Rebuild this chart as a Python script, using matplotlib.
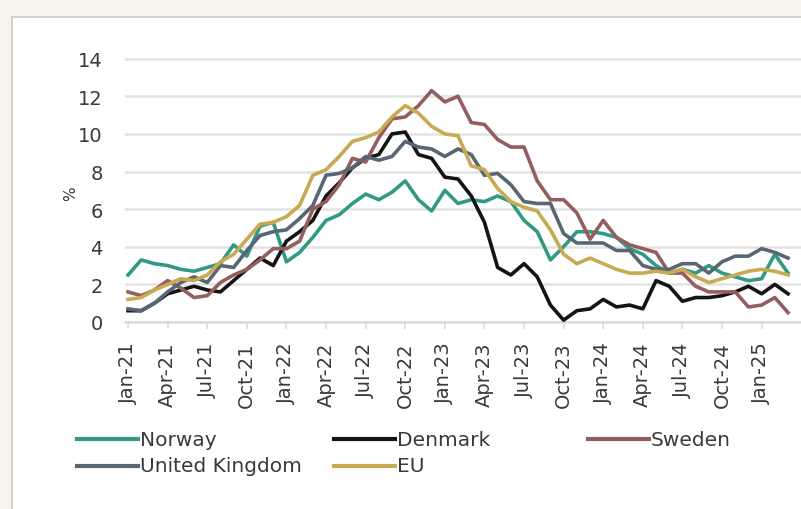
import numpy as np
import matplotlib
matplotlib.use('Agg')
import matplotlib.pyplot as plt
from matplotlib.lines import Line2D
from matplotlib.patches import Rectangle

# Datos: inflacion mensual (%), Jan-21 .. Mar-25
norway = [2.5, 3.3, 3.1, 3.0, 2.8, 2.7, 2.9, 3.1, 4.1, 3.5, 5.1, 5.3,
          3.2, 3.7, 4.5, 5.4, 5.7, 6.3, 6.8, 6.5, 6.9, 7.5, 6.5, 5.9,
          7.0, 6.3, 6.5, 6.4, 6.7, 6.4, 5.4, 4.8, 3.3, 4.0, 4.8, 4.8,
          4.7, 4.5, 3.9, 3.6, 3.0, 2.6, 2.8, 2.6, 3.0, 2.6, 2.4, 2.2,
          2.3, 3.6, 2.6]
denmark = [0.6, 0.6, 1.0, 1.5, 1.7, 1.9, 1.7, 1.6, 2.2, 2.8, 3.4, 3.0,
           4.3, 4.8, 5.4, 6.7, 7.4, 8.2, 8.7, 8.9, 10.0, 10.1, 8.9, 8.7,
           7.7, 7.6, 6.7, 5.3, 2.9, 2.5, 3.1, 2.4, 0.9, 0.1, 0.6, 0.7,
           1.2, 0.8, 0.9, 0.7, 2.2, 1.9, 1.1, 1.3, 1.3, 1.4, 1.6, 1.9,
           1.5, 2.0, 1.5]
sweden = [1.6, 1.4, 1.7, 2.2, 1.8, 1.3, 1.4, 2.1, 2.5, 2.8, 3.3, 3.9,
          3.9, 4.3, 6.0, 6.4, 7.3, 8.7, 8.5, 9.8, 10.8, 10.9, 11.5, 12.3,
          11.7, 12.0, 10.6, 10.5, 9.7, 9.3, 9.3, 7.5, 6.5, 6.5, 5.8, 4.4,
          5.4, 4.5, 4.1, 3.9, 3.7, 2.6, 2.6, 1.9, 1.6, 1.6, 1.6, 0.8,
          0.9, 1.3, 0.5]
uk = [0.7, 0.6, 1.0, 1.6, 2.1, 2.4, 2.1, 3.0, 2.9, 3.8, 4.6, 4.8,
      4.9, 5.5, 6.2, 7.8, 7.9, 8.2, 8.8, 8.6, 8.8, 9.6, 9.3, 9.2,
      8.8, 9.2, 8.9, 7.8, 7.9, 7.3, 6.4, 6.3, 6.3, 4.7, 4.2, 4.2,
      4.2, 3.8, 3.8, 3.0, 2.8, 2.8, 3.1, 3.1, 2.6, 3.2, 3.5, 3.5,
      3.9, 3.7, 3.4]
eu = [1.2, 1.3, 1.7, 2.0, 2.3, 2.2, 2.5, 3.2, 3.6, 4.4, 5.2, 5.3,
      5.6, 6.2, 7.8, 8.1, 8.8, 9.6, 9.8, 10.1, 10.9, 11.5, 11.1, 10.4,
      10.0, 9.9, 8.3, 8.1, 7.1, 6.4, 6.1, 5.9, 4.9, 3.6, 3.1, 3.4,
      3.1, 2.8, 2.6, 2.6, 2.7, 2.6, 2.8, 2.4, 2.1, 2.3, 2.5, 2.7,
      2.8, 2.7, 2.5]

tick_labels = ['Jan-21', 'Apr-21', 'Jul-21', 'Oct-21', 'Jan-22', 'Apr-22',
               'Jul-22', 'Oct-22', 'Jan-23', 'Apr-23', 'Jul-23', 'Oct-23',
               'Jan-24', 'Apr-24', 'Jul-24', 'Oct-24', 'Jan-25']
series_names = ['Norway', 'Denmark', 'Sweden', 'United Kingdom', 'EU']
series_colors = ['#329a84', '#141414', '#945e5f', '#596673', '#c8aa52']

W, H = 801, 510
TXT = '#3a3a3a'


def px(x, y):
    # pixeles (desde arriba-izquierda) -> fraccion de figura
    return x / W, 1 - y / H


def main():
    plt.rcParams['font.family'] = ['DejaVu Sans']
    fig = plt.figure(figsize=(W / 100, H / 100), dpi=100, facecolor='#f8f5ec')

    # panel blanco con borde
    x0, y0 = px(12, 18)
    fig.patches.append(Rectangle((x0, -0.02), 1.05 - x0, y0 + 0.02,
                                 transform=fig.transFigure, facecolor='white',
                                 edgecolor='#d6d2c8', linewidth=1.5, zorder=-10))

    left, top = px(125, 54)
    _, bottom = px(125, 323)
    ax = fig.add_axes([left, bottom, 676 / W, top - bottom])
    ax.set_facecolor('none')

    x = np.arange(len(norway))
    data = [norway, denmark, sweden, uk, eu]
    for vals, c in zip(data, series_colors):
        ax.plot(x, vals, color=c, lw=2.6, solid_joinstyle='round',
                clip_on=False, zorder=3)

    ax.set_xlim(-0.23, -0.23 + 676 / 13.2)
    ax.set_ylim(0, 14.3)
    ax.set_yticks(np.arange(0, 15, 2))
    ax.set_xticks(np.arange(0, 49, 3))
    ax.set_xticklabels(tick_labels, rotation=90)

    ax.grid(axis='y', color='#e3e3e3', lw=1.8)
    ax.set_axisbelow(True)
    for s in ['top', 'right', 'left']:
        ax.spines[s].set_visible(False)
    ax.spines['bottom'].set_color('#dcdcdc')
    ax.spines['bottom'].set_linewidth(1.8)

    ax.tick_params(axis='y', length=0, pad=16, labelsize=14, labelcolor=TXT)
    ax.tick_params(axis='x', length=5, width=1.2, color='#dcdcdc', pad=9,
                   labelsize=14, labelcolor=TXT)

    ax.set_ylabel('%', fontsize=11, color=TXT)
    ax.yaxis.set_label_coords(-0.07, 0.48)

    # leyenda en columnas de igual ancho
    handle_x = [77, 334, 588, 77, 334]
    handle_y = [440, 440, 440, 467, 467]
    for name, c, hx, hy in zip(series_names, series_colors, handle_x, handle_y):
        xa, ya = px(hx, hy)
        xb, _ = px(hx + 61, hy)
        fig.add_artist(Line2D([xa, xb], [ya, ya], color=c, lw=3,
                              transform=fig.transFigure))
        fig.text(px(hx + 63, hy)[0], ya, name, fontsize=14.5, color=TXT,
                 va='center', ha='left')

    plt.savefig('out.png', dpi=100, facecolor=fig.get_facecolor())


if __name__ == "__main__":
    main()
